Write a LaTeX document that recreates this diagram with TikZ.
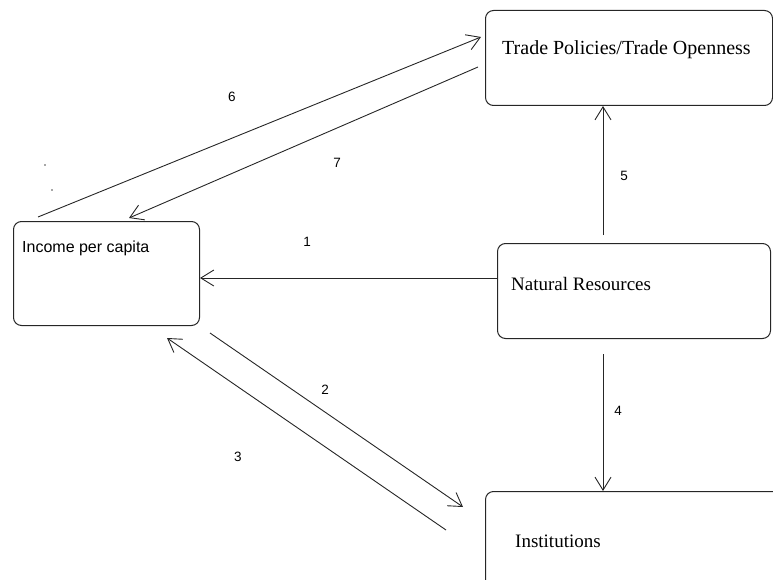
\documentclass[tikz,border=0pt]{standalone}
\usepackage{fontspec}
\setmainfont{Liberation Serif}
\newfontfamily\arialfont{Liberation Sans}
\usetikzlibrary{arrows.meta}
\begin{document}
\begin{tikzpicture}[x=1pt,y=-1pt,
  box/.style={draw=black!85,line width=1pt,rounded corners=8pt,rectangle,inner sep=0pt,anchor=north west},
  txt/.style={anchor=base west,inner sep=0pt,font=\fontsize{19}{22}\selectfont},
  num/.style={inner sep=0pt,font=\arialfont\fontsize{13.5}{15}\selectfont},
  arr/.style={draw=black!85,line width=0.9pt,-{Straight Barb[length=13pt,width=16pt,line width=0.9pt]}}]
\useasboundingbox (0,0) rectangle (773,580);
% boxes
\node[box,minimum width=287pt,minimum height=95pt] (trade) at (485,10) {};
\node[box,minimum width=186pt,minimum height=104pt] (inc) at (13,221) {};
\node[box,minimum width=273pt,minimum height=95pt] (nr) at (497,243) {};
\node[box,minimum width=400pt,minimum height=200pt] (inst) at (485,491) {};
% texts
\node[txt,font=\fontsize{20}{23}\selectfont] (tradet) at (502,55) {Trade Policies/Trade Openness};
\node[txt,font=\arialfont\fontsize{16}{18}\selectfont] (inct) at (22,252) {Income per capita};
\node[txt] (nrt) at (511,290) {Natural Resources};
\node[txt] (instt) at (515,547) {Institutions};
% connector end points
\coordinate (s1) at (nr.west |- 0,278);
\coordinate (e1) at (inc.east |- 0,278);
\coordinate (s2) at (210,333);
\coordinate (e2) at (463,507);
\coordinate (s3) at (446,530);
\coordinate (e3) at (167,338);
\coordinate (s4) at (603,354);
\coordinate (e4) at (inst.north -| 603,0);
\coordinate (s5) at (603,235);
\coordinate (e5) at (trade.south -| 603,0);
\coordinate (s6) at (38,217);
\coordinate (e6) at (481,37);
\coordinate (s7) at (478,67);
\coordinate (e7) at (129,218);
% connectors
\draw[arr] (s1) -- (e1);
\draw[arr] (s2) -- (e2);
\draw[arr] (s3) -- (e3);
\draw[arr] (s4) -- (e4);
\draw[arr] (s5) -- (e5);
\draw[arr] (s6) -- (e6);
\draw[arr] (s7) -- (e7);
% labels
\node[num] (l1) at (307,242) {1};
\node[num] (l2) at (325,390) {2};
\node[num] (l3) at (238,457) {3};
\node[num] (l4) at (618,411) {4};
\node[num] (l5) at (624,176) {5};
\node[num] (l6) at (232,97) {6};
\node[num] (l7) at (337,163) {7};
% stray dots
\fill[black!70] (45,165) circle (0.8pt);
\fill[black!70] (52,190) circle (0.8pt);
\end{tikzpicture}
\end{document}
